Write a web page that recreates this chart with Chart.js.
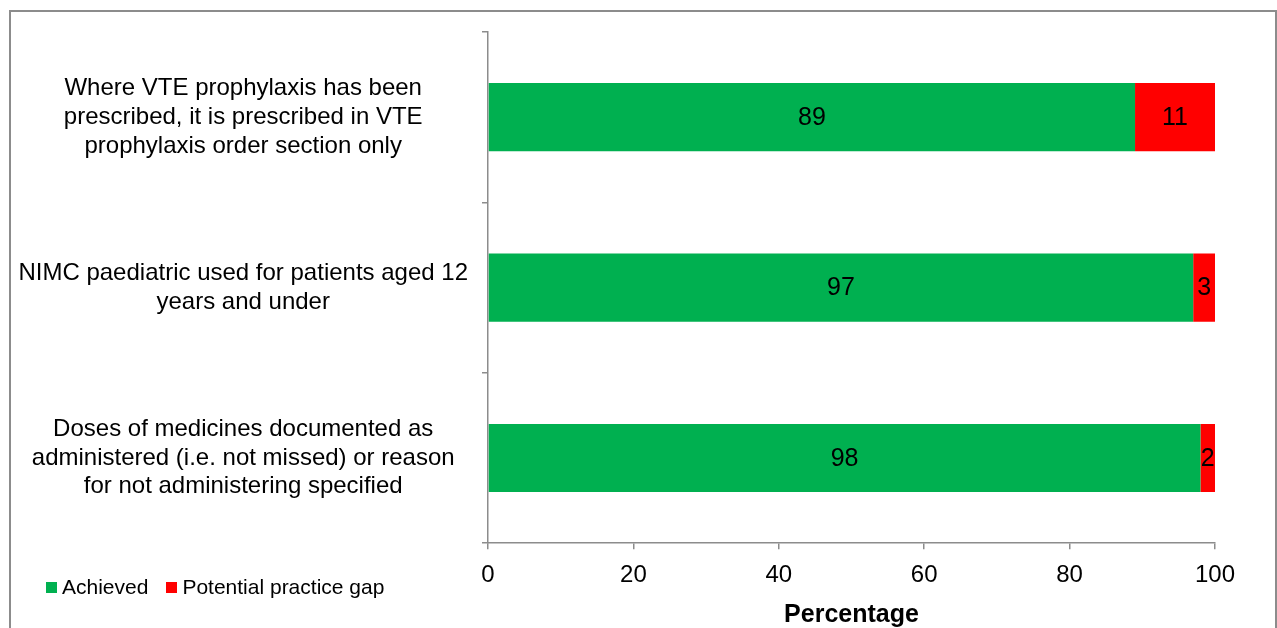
<!DOCTYPE html>
<html>
<head>
<meta charset="utf-8">
<script src="https://cdn.jsdelivr.net/npm/chart.js@4"></script>
<style>
  html, body { margin: 0; padding: 0; background: #fff; overflow: hidden; }
  body { width: 1277px; height: 628px; position: relative; font-family: "Liberation Sans", Arial, sans-serif; }
  #frame { position: absolute; left: 9px; top: 10px; width: 1264px; height: 700px; border: 2px solid #8c8c8c; }
  #chart { position: absolute; left: 0; top: 0; }
  #legend { position: absolute; left: 46px; top: 573px; display: flex; font-size: 21px; line-height: 28px; color: #000; }
  #legend .item { display: flex; align-items: center; margin-right: 18px; }
  #legend .box { width: 11px; height: 11px; margin-right: 5px; }
</style>
</head>
<body>
<div id="frame"></div>
<canvas id="chart" width="1277" height="628"></canvas>
<div id="legend"></div>
<script>
const categories = [
  ["Where VTE prophylaxis has been", "prescribed, it is prescribed in VTE", "prophylaxis order section only"],
  ["NIMC paediatric used for patients aged 12", "years and under"],
  ["Doses of medicines documented as", "administered (i.e. not missed) or reason", "for not administering specified"]
];
const achieved = [89, 97, 98];
const practiceGap = [11, 3, 2];
const xTicks = [0, 20, 40, 60, 80, 100];

const seriesNames = ["Achieved", "Potential practice gap"];
const seriesColors = ["#00B050", "#FF0000"];

const fontFamily = '"Liberation Sans", Arial, sans-serif';
const axisGrey = "#8c8c8c";

// draws the value in the middle of each bar segment
const barValues = {
  id: "barValues",
  afterDatasetsDraw(chart) {
    const ctx = chart.ctx;
    ctx.save();
    ctx.font = "25px " + fontFamily;
    ctx.fillStyle = "#000";
    ctx.textAlign = "center";
    ctx.textBaseline = "middle";
    chart.data.datasets.forEach((ds, i) => {
      chart.getDatasetMeta(i).data.forEach((bar, j) => {
        const p = bar.getCenterPoint();
        ctx.fillText(String(ds.data[j]), p.x, p.y + 1);
      });
    });
    ctx.restore();
  }
};

const ctx = document.getElementById("chart").getContext("2d");

new Chart(ctx, {
  type: "bar",
  data: {
    labels: categories,
    datasets: [
      { label: seriesNames[0], data: achieved, backgroundColor: seriesColors[0] },
      { label: seriesNames[1], data: practiceGap, backgroundColor: seriesColors[1] }
    ]
  },
  options: {
    indexAxis: "y",
    responsive: false,
    animation: false,
    categoryPercentage: 1,
    barPercentage: 0.4,
    layout: { padding: { top: 32, right: 62, left: 0, bottom: 0 } },
    plugins: {
      legend: { display: false },
      tooltip: { enabled: false }
    },
    scales: {
      x: {
        stacked: true,
        min: 0,
        max: 100,
        afterBuildTicks: (scale) => {
          scale.ticks = xTicks.map(v => ({ value: v }));
        },
        grid: { drawOnChartArea: false, tickLength: 6, color: axisGrey, lineWidth: 1.5 },
        border: { color: axisGrey, width: 1.5 },
        ticks: {
          padding: 12,
          color: "#000",
          font: { family: fontFamily, size: 24 }
        },
        title: {
          display: true,
          text: "Percentage",
          color: "#000",
          font: { family: fontFamily, size: 25, weight: "bold", lineHeight: 1.0 },
          padding: { top: 1, bottom: 0 }
        }
      },
      y: {
        stacked: true,
        afterFit: (scale) => {
          scale.width = 488;
          scale.paddingTop = 0;
          scale.paddingBottom = 0;
        },
        grid: { drawOnChartArea: false, offset: true, tickLength: 6, color: axisGrey, lineWidth: 1.5 },
        border: { color: axisGrey, width: 1.5 },
        ticks: {
          padding: 14,
          crossAlign: "center",
          color: "#000",
          font: { family: fontFamily, size: 24, lineHeight: 1.2 }
        }
      }
    }
  },
  plugins: [barValues]
});

// legend sits beside the axis ticks, so it is built as html
const legend = document.getElementById("legend");
seriesNames.forEach((name, i) => {
  const item = document.createElement("span");
  item.className = "item";
  const box = document.createElement("span");
  box.className = "box";
  box.style.background = seriesColors[i];
  item.appendChild(box);
  item.appendChild(document.createTextNode(name));
  legend.appendChild(item);
});
</script>
</body>
</html>
